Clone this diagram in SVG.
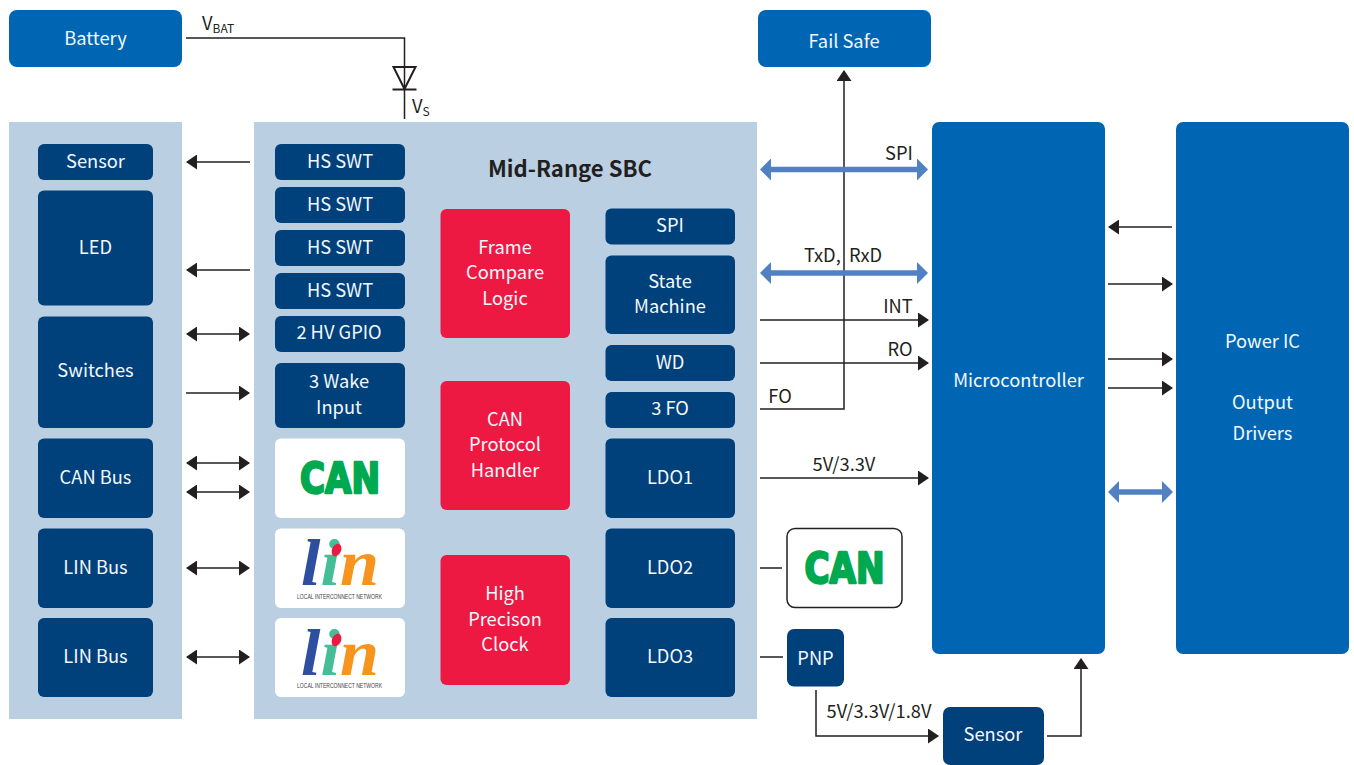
<svg xmlns="http://www.w3.org/2000/svg" width="1354" height="765" viewBox="0 0 1354 765">
<defs>
<marker id="a" viewBox="0 0 11 15" refX="10" refY="7.500" markerWidth="11" markerHeight="15" markerUnits="userSpaceOnUse" orient="auto-start-reverse"><path d="M0 0L11 7.500L0 15Z" fill="#231f20"/></marker>
<marker id="b" viewBox="0 0 11 22" refX="7" refY="11" markerWidth="11" markerHeight="22" markerUnits="userSpaceOnUse" orient="auto-start-reverse"><path d="M0 0L11 11L0 22Z" fill="#4f81c3"/></marker>
</defs>
<style>
text{font-family:"Noto Sans CJK SC","Noto Sans",sans-serif;font-size:18.300px;text-anchor:middle;white-space:pre}
.w{fill:#f4f8fb}.k{fill:#231f20}
.mid{fill:#0066b3}.dark{fill:#00407b}.red{fill:#ee1943}.pale{fill:#bbcfe2}.wh{fill:#fff}
.c{fill:none;stroke:#231f20;stroke-width:1.500}
.ar{marker-end:url(#a)}.dbl{marker-start:url(#a);marker-end:url(#a)}
.blue{fill:none;stroke:#4f81c3;stroke-width:5.500;marker-start:url(#b);marker-end:url(#b)}
.can{font-family:"DejaVu Sans",sans-serif;font-weight:700;font-size:42px;fill:#00a94f;stroke:#00a94f;stroke-width:2.500;stroke-linejoin:round}
.lin{font-family:"Liberation Serif",serif;font-style:italic;font-weight:700;font-size:66px;text-anchor:start}
.lt{font-family:"Liberation Sans",sans-serif;font-size:6.300px;fill:#444}
</style>
<rect id="panel-left" class="pale" x="9" y="122" width="173" height="597"/>
<rect id="panel-sbc" class="pale" x="254" y="122" width="503" height="597"/>
<g id="connectors">
<path class="c" d="M186 38H404.500V119"/>
<path class="c" style="stroke-width:2" d="M393.500 67H415.500L404.500 89ZM392.500 89.500H416.500"/>
<path class="c ar" d="M250 162H187"/><path class="c ar" d="M250 270H187"/>
<path class="c dbl" d="M187 334H249"/><path class="c ar" d="M186 393H249"/>
<path class="c dbl" d="M187 463H249"/><path class="c dbl" d="M187 492H249"/>
<path class="c dbl" d="M187 568H249"/><path class="c dbl" d="M187 657H249"/>
<path class="c ar" d="M760 409H844V71"/>
<path class="blue" d="M764 169.500H924"/><path class="blue" d="M764 273H924"/>
<path class="c ar" d="M760 320H928"/><path class="c ar" d="M760 363H928"/><path class="c ar" d="M760 478H928"/>
<path class="c" d="M760 568H782M760 657H783"/>
<path class="c ar" d="M816 690V736H938"/>
<path class="c ar" d="M1047 736H1081V659"/>
<path class="c ar" d="M1172 227H1109"/><path class="c ar" d="M1108 284H1172"/><path class="c ar" d="M1108 359H1172"/><path class="c ar" d="M1108 388H1172"/>
<path class="blue" d="M1112 492H1169"/>
</g>
<g id="battery"><rect class="mid" x="9" y="10" width="173" height="57" rx="8"/><text class="w" x="95.500" y="45">Battery</text></g>
<g id="failsafe"><rect class="mid" x="758" y="10" width="173" height="57" rx="8"/><text class="w" x="844" y="48">Fail Safe</text></g>
<g id="l-sensor"><rect class="dark" x="38" y="144" width="115" height="36" rx="6"/><text class="w" x="95.500" y="168">Sensor</text></g>
<g id="l-led"><rect class="dark" x="38" y="190.500" width="115" height="115" rx="6"/><text class="w" x="95.500" y="254">LED</text></g>
<g id="l-switches"><rect class="dark" x="38" y="316.500" width="115" height="111.500" rx="6"/><text class="w" x="95.500" y="377">Switches</text></g>
<g id="l-can"><rect class="dark" x="38" y="438.500" width="115" height="79.500" rx="6"/><text class="w" x="95.500" y="484">CAN Bus</text></g>
<g id="l-lin1"><rect class="dark" x="38" y="528.500" width="115" height="79.500" rx="6"/><text class="w" x="95.500" y="574">LIN Bus</text></g>
<g id="l-lin2"><rect class="dark" x="38" y="618" width="115" height="79" rx="6"/><text class="w" x="95.500" y="663">LIN Bus</text></g>
<g id="hs1"><rect class="dark" x="275" y="144" width="130" height="36" rx="6"/><text class="w" x="340" y="168">HS SWT</text></g>
<g id="hs2"><rect class="dark" x="275" y="187" width="130" height="36" rx="6"/><text class="w" x="340" y="211">HS SWT</text></g>
<g id="hs3"><rect class="dark" x="275" y="230" width="130" height="36" rx="6"/><text class="w" x="340" y="254">HS SWT</text></g>
<g id="hs4"><rect class="dark" x="275" y="273" width="130" height="36" rx="6"/><text class="w" x="340" y="297">HS SWT</text></g>
<g id="gpio"><rect class="dark" x="275" y="316" width="130" height="36" rx="6"/><text class="w" x="339" y="339">2 HV GPIO</text></g>
<g id="wake"><rect class="dark" x="275" y="363" width="130" height="65" rx="6"/><text class="w" x="339" y="388">3 Wake</text><text class="w" x="339" y="414">Input</text></g>
<g id="can1"><rect class="wh" x="275" y="438.500" width="130" height="79.500" rx="6"/><text class="can" x="340" y="493" textLength="80" lengthAdjust="spacingAndGlyphs">CAN</text></g>
<g id="lin1"><rect class="wh" x="275" y="528.500" width="130" height="79.500" rx="6"/><text class="lin" x="301" y="585" textLength="78" lengthAdjust="spacingAndGlyphs"><tspan fill="#2e4fa0">l</tspan><tspan fill="#45bd97">i</tspan><tspan fill="#f7941d">n</tspan></text><ellipse cx="336.500" cy="550" rx="4.500" ry="6.500" transform="rotate(25 336.500 550)" fill="#ee1943"/><text class="lt" x="339.500" y="598.500" textLength="85" lengthAdjust="spacingAndGlyphs">LOCAL INTERCONNECT NETWORK</text></g>
<g id="lin2"><rect class="wh" x="275" y="618" width="130" height="79" rx="6"/><text class="lin" x="301" y="675" textLength="78" lengthAdjust="spacingAndGlyphs"><tspan fill="#2e4fa0">l</tspan><tspan fill="#45bd97">i</tspan><tspan fill="#f7941d">n</tspan></text><ellipse cx="336.500" cy="640" rx="4.500" ry="6.500" transform="rotate(25 336.500 640)" fill="#ee1943"/><text class="lt" x="339.500" y="688" textLength="85" lengthAdjust="spacingAndGlyphs">LOCAL INTERCONNECT NETWORK</text></g>
<text id="title" x="570" y="177" class="k" style="font-size:22.100px;font-weight:700">Mid-Range SBC</text>
<g id="frame"><rect class="red" x="440.500" y="209" width="129.500" height="129" rx="6"/><text class="w" x="505" y="254">Frame</text><text class="w" x="505" y="279">Compare</text><text class="w" x="505" y="305">Logic</text></g>
<g id="protocol"><rect class="red" x="440.500" y="381" width="129.500" height="129" rx="6"/><text class="w" x="505" y="426">CAN</text><text class="w" x="505" y="451">Protocol</text><text class="w" x="505" y="477">Handler</text></g>
<g id="clock"><rect class="red" x="440.500" y="555" width="129.500" height="130" rx="6"/><text class="w" x="505" y="600">High</text><text class="w" x="505" y="626">Precison</text><text class="w" x="505" y="651">Clock</text></g>
<g id="spi"><rect class="dark" x="605.500" y="208.500" width="129.500" height="36" rx="6"/><text class="w" x="670" y="232">SPI</text></g>
<g id="state"><rect class="dark" x="605.500" y="255.500" width="129.500" height="78.500" rx="6"/><text class="w" x="670" y="288">State</text><text class="w" x="670" y="313">Machine</text></g>
<g id="wd"><rect class="dark" x="605.500" y="345" width="129.500" height="36" rx="6"/><text class="w" x="670" y="369">WD</text></g>
<g id="fo"><rect class="dark" x="605.500" y="392" width="129.500" height="36" rx="6"/><text class="w" x="670" y="415">3 FO</text></g>
<g id="ldo1"><rect class="dark" x="605.500" y="438.500" width="129.500" height="79.500" rx="6"/><text class="w" x="670" y="484">LDO1</text></g>
<g id="ldo2"><rect class="dark" x="605.500" y="528.500" width="129.500" height="79.500" rx="6"/><text class="w" x="670" y="574">LDO2</text></g>
<g id="ldo3"><rect class="dark" x="605.500" y="618" width="129.500" height="79" rx="6"/><text class="w" x="670" y="663">LDO3</text></g>
<g id="can2"><rect x="787" y="528.500" width="115" height="79" rx="8" fill="#fff" stroke="#231f20" stroke-width="1.500"/><text class="can" x="844.500" y="583" textLength="80" lengthAdjust="spacingAndGlyphs">CAN</text></g>
<g id="pnp"><rect class="dark" x="787" y="629" width="57" height="57.500" rx="7"/><text class="w" x="815.500" y="665">PNP</text></g>
<g id="sensor"><rect class="dark" x="943" y="707" width="101" height="58" rx="7"/><text class="w" x="993" y="741">Sensor</text></g>
<g id="mcu"><rect class="mid" x="932" y="122" width="173" height="532" rx="7"/><text class="w" x="1018.500" y="387">Microcontroller</text></g>
<g id="power"><rect class="mid" x="1176" y="122" width="173" height="532" rx="7"/><text class="w" x="1262.500" y="348">Power IC</text><text class="w" x="1262.500" y="409">Output</text><text class="w" x="1262.500" y="440">Drivers</text></g>
<g id="labels">
<text class="k" x="202" y="30" style="text-anchor:start">V<tspan style="font-size:12px" dy="3">BAT</tspan></text>
<text class="k" x="412" y="113" style="text-anchor:start">V<tspan style="font-size:12px" dy="3">S</tspan></text>
<text class="k" x="899" y="160">SPI</text>
<text class="k" x="843" y="262">TxD,  RxD</text>
<text class="k" x="898" y="313">INT</text>
<text class="k" x="900" y="356">RO</text>
<text class="k" x="780" y="403">FO</text>
<text class="k" x="844" y="471">5V/3.3V</text>
<text class="k" x="879" y="718">5V/3.3V/1.8V</text>
</g>
</svg>
